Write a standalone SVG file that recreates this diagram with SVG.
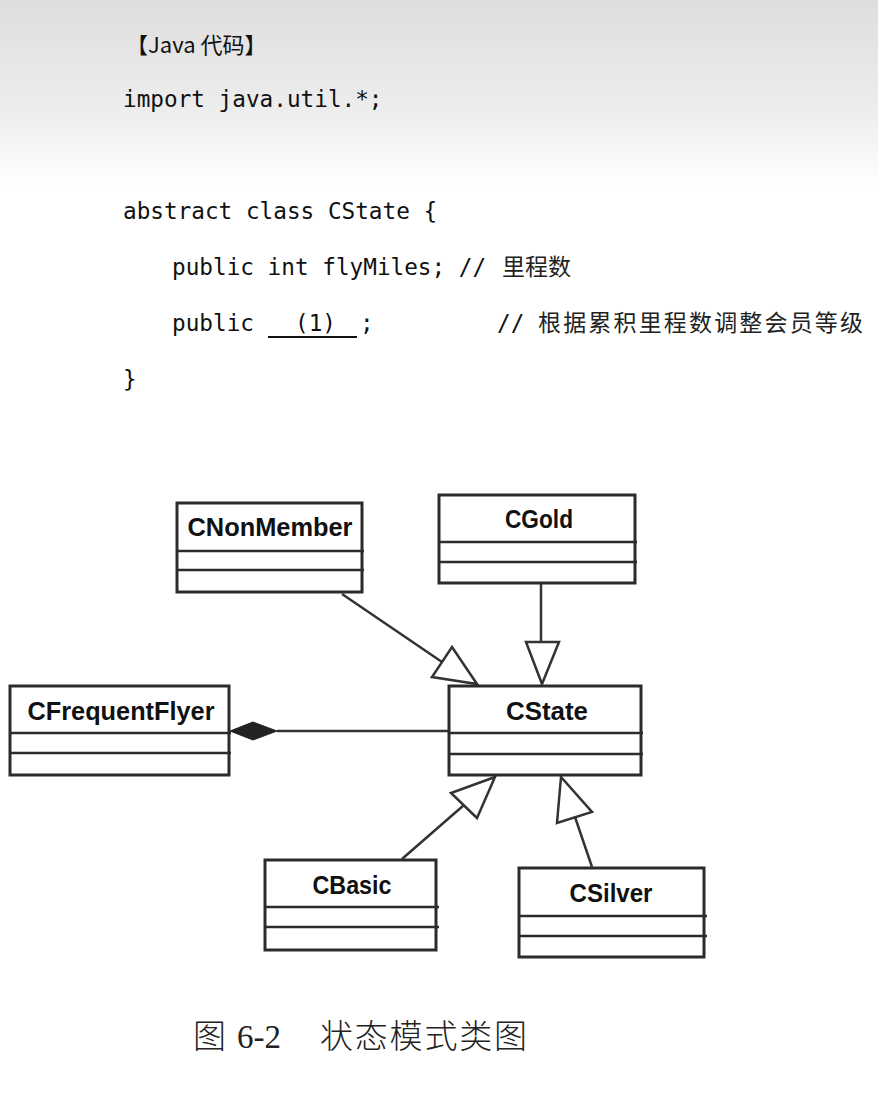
<svg xmlns="http://www.w3.org/2000/svg" width="878" height="1102" viewBox="0 0 878 1102">
<defs>
<linearGradient id="bg" x1="0" y1="0" x2="0" y2="1102" gradientUnits="userSpaceOnUse">
<stop offset="0" stop-color="#dedede"/>
<stop offset="0.1" stop-color="#ededed"/>
<stop offset="0.17" stop-color="#ffffff"/>
<stop offset="1" stop-color="#ffffff"/>
</linearGradient>
<style>
.code{font-family:"DejaVu Sans Mono","Liberation Mono",monospace;font-size:22.7px;fill:#111}
.cjk{font-family:"Noto Sans CJK SC",sans-serif;font-size:23px;fill:#222}
.box{fill:#fff;stroke:#2b2b2b;stroke-width:3}
.div{stroke:#2b2b2b;stroke-width:2.5}
.name{font-family:"Liberation Sans",Arial,sans-serif;font-weight:bold;font-size:25px;fill:#111;text-anchor:middle}
.edge{stroke:#333;stroke-width:2.5;fill:none}
.tri{fill:#fff;stroke:#333;stroke-width:2.5;stroke-linejoin:miter}
</style>
</defs>
<rect x="0" y="0" width="878" height="1102" fill="url(#bg)"/>

<g id="code">
<text x="126" y="53" style="font-family:'Noto Sans CJK SC',sans-serif;font-size:22px;fill:#111">【Java 代码】</text>
<text class="code" x="123" y="107">import java.util.*;</text>
<text class="code" x="123" y="219">abstract class CState {</text>
<text class="code" x="172" y="275">public int flyMiles; //</text>
<text class="cjk" x="502" y="275">里程数</text>
<text class="code" x="172" y="331">public</text>
<text class="code" x="295" y="331">(1)</text>
<line x1="268" y1="337" x2="357" y2="337" stroke="#111" stroke-width="2"/>
<text class="code" x="360" y="331">;</text>
<text class="code" x="497" y="331">//</text>
<text class="cjk" x="538" y="331" textLength="325">根据累积里程数调整会员等级</text>
<text class="code" x="123" y="387">}</text>
</g>

<g id="connectors">
<line class="edge" x1="342" y1="594" x2="442" y2="662"/>
<polygon class="tri" points="477,684 452,647 432,677"/>
<line class="edge" x1="541" y1="583" x2="541" y2="642"/>
<polygon class="tri" points="526,642 559,642 542,684"/>
<line class="edge" x1="402" y1="859" x2="464" y2="805"/>
<polygon class="tri" points="495,777 451,793 477,818"/>
<line class="edge" x1="592" y1="867" x2="575" y2="817"/>
<polygon class="tri" points="561,777 557,823 592,812"/>
<line class="edge" x1="277" y1="731" x2="449" y2="731" stroke-width="3"/>
<polygon points="230,731 253,722 277,731 253,740" fill="#222" stroke="#222" stroke-width="1"/>
</g>

<g id="CNonMember">
<rect class="box" x="177" y="503" width="185" height="89"/>
<line class="div" x1="177" y1="551" x2="364" y2="551"/>
<line class="div" x1="177" y1="570" x2="364" y2="570" stroke-width="3"/>
<text class="name" x="270" y="536" textLength="165" lengthAdjust="spacingAndGlyphs">CNonMember</text>
</g>

<g id="CGold">
<rect class="box" x="439" y="495" width="196" height="88"/>
<line class="div" x1="439" y1="542" x2="637" y2="542"/>
<line class="div" x1="439" y1="562" x2="637" y2="562"/>
<text class="name" x="539" y="528" textLength="68" lengthAdjust="spacingAndGlyphs">CGold</text>
</g>

<g id="CFrequentFlyer">
<rect class="box" x="10" y="686" width="219" height="89"/>
<line class="div" x1="10" y1="733" x2="231" y2="733"/>
<line class="div" x1="10" y1="753" x2="231" y2="753"/>
<text class="name" x="121" y="720" textLength="187" lengthAdjust="spacingAndGlyphs">CFrequentFlyer</text>
</g>

<g id="CState">
<rect class="box" x="449" y="686" width="192" height="89"/>
<line class="div" x1="449" y1="733" x2="643" y2="733"/>
<line class="div" x1="449" y1="754" x2="643" y2="754"/>
<text class="name" x="547" y="720" textLength="82" lengthAdjust="spacingAndGlyphs">CState</text>
</g>

<g id="CBasic">
<rect class="box" x="265" y="860" width="171" height="90"/>
<line class="div" x1="265" y1="907" x2="439" y2="907"/>
<line class="div" x1="265" y1="927" x2="439" y2="927" stroke-width="3"/>
<text class="name" x="352" y="894" textLength="79" lengthAdjust="spacingAndGlyphs">CBasic</text>
</g>

<g id="CSilver">
<rect class="box" x="519" y="868" width="185" height="89"/>
<line class="div" x1="519" y1="916" x2="707" y2="916"/>
<line class="div" x1="519" y1="936" x2="707" y2="936" stroke-width="3"/>
<text class="name" x="611" y="902" textLength="83" lengthAdjust="spacingAndGlyphs">CSilver</text>
</g>

<g id="caption">
<text x="193" y="1048" style="font-family:'Noto Sans CJK SC',sans-serif;font-size:33px;font-weight:300;fill:#222">图</text>
<text x="237" y="1048" style="font-family:'Liberation Serif',serif;font-size:33px;fill:#222">6-2</text>
<text x="320" y="1048" textLength="207" style="font-family:'Noto Sans CJK SC',sans-serif;font-size:33px;font-weight:300;fill:#222">状态模式类图</text>
</g>
</svg>
